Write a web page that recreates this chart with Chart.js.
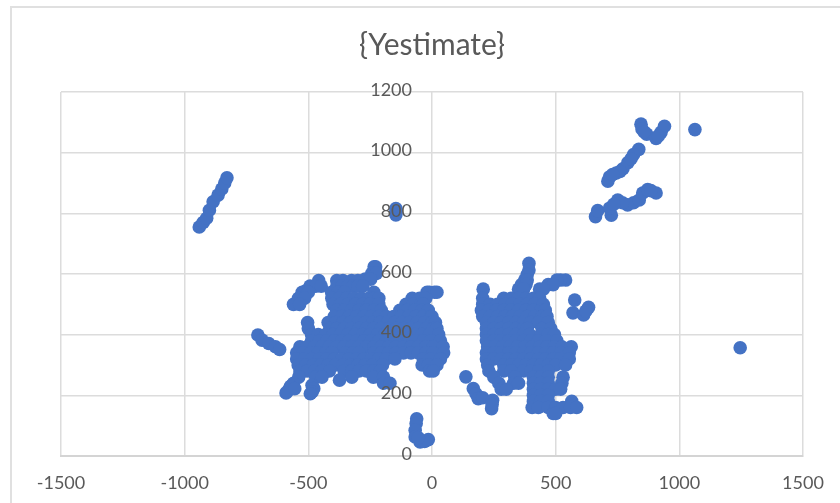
<!DOCTYPE html>
<html lang="en">

<head>
    <meta charset="UTF-8">
    <style>
        html, body { margin: 0; padding: 0; background: #fff; overflow: hidden; }
        .frame { position: absolute; left: 10px; top: 6px; width: 840px; height: 510px; border: 2px solid #e0e0e0; box-sizing: border-box; }
        .chart-container { position: absolute; left: 0; top: 0; width: 840px; height: 503px; filter: blur(0.4px); }
    </style>
</head>

<body>
    <div class="frame"></div>
    <div class="chart-container">
        <canvas id="myChart" width="840" height="503"></canvas>
    </div>

    <script src="https://cdn.jsdelivr.net/npm/chart.js"></script>

    <script>
        const chartTitle = '{Yestimate}';
        const xTicks = [-1500, -1000, -500, 0, 500, 1000, 1500];
        const yTicks = [0, 200, 400, 600, 800, 1000, 1200];

        // each row: [y, [x, x, ...]]
        const leftMassRows = [
            [624, [-234, -228]], [602, [-243, -225]], [583, [-270, -248]], [578, [-458, -385, -360, -325, -300]],
            [560, [-493, -470, -448, -385, -365, -340, -320, -300, -280]],
            [545, [-510]],
            [540, [-525, -500, -406, -380, -355, -235, -10, 10, -20, 20]],
            [520, [-540, -515, -405, -375, -345, -315, -285, -255, -235, -215, -80, -50, -25]],
            [500, [-560, -535, -400, -370, -340, -310, -280, -250, -215, -105, -75, -45, -35]],
            [480, [-385, -355, -325, -295, -265, -235, -205, -130, -100, -70, -40, -15]],
            [460, [-395, -365, -335, -305, -275, -245, -215, -185, -155, -125, -95, -65, -35, -5, 0]],
            [440, [-503, -420, -390, -360, -330, -300, -270, -240, -210, -180, -150, -120, -90, -60, -30, 0, 14]],
            [420, [-500, -413, -385, -355, -325, -295, -265, -235, -205, -175, -145, -115, -85, -55, -25, 5, 20]],
            [400, [-487, -460, -430, -400, -370, -340, -310, -280, -250, -220, -190, -160, -130, -100, -70, -40, -10, 27]],
            [380, [-487, -455, -425, -395, -365, -335, -305, -275, -245, -215, -185, -155, -125, -95, -65, -35, -5, 34]],
            [360, [-534, -505, -475, -445, -415, -385, -355, -325, -295, -265, -235, -205, -175, -145, -115, -85, -55, -25, 5, 45]],
            [340, [-547, -520, -490, -460, -430, -405, -350, -320, -295, -235, -205, -175, -145, -115, -85, -55, -25, 5, 47]],
            [320, [-547, -515, -485, -455, -425, -395, -365, -335, -305, -275, -245, -215, -185, -150, -35, -5, 34]],
            [300, [-541, -510, -480, -450, -420, -390, -360, -330, -300, -270, -240, -200, -40, -15, 20]],
            [280, [-534, -505, -475, -445, -415, -355, -325, -295, -265, -235, -210, -10, 5]],
            [260, [-539, -470, -445, -324, -237, -196]],
            [240, [-560, -196, -170]]
        ];
        const leftBottomBlobs = [[-580, 217], [-572, 230], [-590, 208], [-555, 222], [-485, 233], [-478, 222], [-485, 211], [-492, 205], [-374, 250]];
        const leftTail = [[-704, 399], [-687, 382], [-660, 371], [-633, 360], [-616, 351]];
        const lowCluster = [[-62, 123], [-64, 107], [-68, 85], [-68, 63], [-48, 46], [-15, 54], [-30, 48], [-55, 60]];
        const upperLeftLine = [[-941, 755], [-925, 770], [-911, 784], [-900, 810], [-885, 838], [-865, 860], [-850, 880], [-838, 900], [-829, 917]];
        const midBlob = [[-146, 816], [-146, 805], [-146, 795]];

        const rightMassRows = [
            [635, [392]], [613, [392]], [598, [385]], [580, [375, 385, 540, 520, 505]],
            [565, [362, 380, 470, 490]], [550, [207, 350, 370, 435, 450]],
            [520, [205, 290, 320, 350, 380, 410, 435]],
            [500, [205, 235, 265, 295, 325, 355, 385, 415, 450]],
            [480, [200, 230, 260, 290, 320, 350, 380, 410, 440, 458]],
            [460, [205, 235, 265, 295, 325, 355, 385, 415, 445, 465]],
            [440, [220, 250, 280, 310, 340, 370, 400, 430, 470]],
            [420, [220, 250, 280, 310, 340, 370, 385, 445, 480]],
            [400, [220, 250, 280, 310, 340, 370, 395, 440, 470, 495]],
            [380, [220, 250, 280, 310, 340, 370, 400, 430, 460, 505]],
            [360, [225, 255, 285, 315, 345, 375, 405, 435, 465, 495, 525, 563]],
            [340, [220, 250, 280, 310, 340, 370, 400, 430, 460, 490, 520, 555]],
            [320, [220, 250, 280, 310, 340, 370, 400, 430, 460, 490, 520, 555]],
            [300, [225, 290, 320, 350, 380, 410, 440, 470, 500, 540]],
            [280, [230, 290, 320, 370, 400, 430, 470]],
            [260, [250, 335, 410, 440, 470, 530]],
            [240, [270, 330, 350, 410, 440, 470, 525]],
            [220, [280, 300, 410, 440, 470, 500, 520]],
            [200, [410, 440, 470]],
            [180, [410, 440, 470, 565]],
            [160, [405, 430, 470, 500, 530, 560, 585]],
            [140, [490, 500]]
        ];
        const rightBottomBlobs = [[137, 261], [167, 222], [178, 205], [187, 189], [205, 192], [241, 156], [245, 184], [243, 170]];
        const rightSatellites = [[577, 514], [570, 472], [613, 465], [633, 490], [622, 478]];
        const farPoint = [[1246, 357]];
        const topRightCap = [[845, 1094], [849, 1078], [868, 1061], [906, 1047], [926, 1067], [940, 1087], [858, 1068], [915, 1055]];
        const topRightLine = [[836, 1011], [815, 994], [792, 967], [772, 947], [745, 933], [718, 920], [711, 906], [805, 980], [760, 938], [730, 928]];
        const midRightLine = [[661, 789], [670, 809], [725, 794], [718, 817], [751, 844], [791, 828], [815, 835], [838, 844], [852, 867], [872, 878], [906, 867], [885, 875], [770, 835], [735, 830]];
        const singlePoint = [[1063, 1076]];

        const rowsToPoints = rows => rows.flatMap(([y, xs]) => xs.map(x => ({ x, y })));
        const pairsToPoints = pairs => pairs.map(([x, y]) => ({ x, y }));

        const points = [
            ...rowsToPoints(leftMassRows),
            ...rowsToPoints(rightMassRows),
            ...pairsToPoints(leftBottomBlobs),
            ...pairsToPoints(leftTail),
            ...pairsToPoints(lowCluster),
            ...pairsToPoints(upperLeftLine),
            ...pairsToPoints(midBlob),
            ...pairsToPoints(rightBottomBlobs),
            ...pairsToPoints(rightSatellites),
            ...pairsToPoints(farPoint),
            ...pairsToPoints(topRightCap),
            ...pairsToPoints(topRightLine),
            ...pairsToPoints(midRightLine),
            ...pairsToPoints(singlePoint)
        ];

        const ctx = document.getElementById('myChart');

        new Chart(ctx, {
            type: 'scatter',
            data: {
                datasets: [{
                    label: chartTitle,
                    data: points,
                    backgroundColor: '#4472c4',
                    borderColor: '#4472c4',
                    pointRadius: 6.8,
                    pointBorderWidth: 0
                }]
            },
            options: {
                responsive: false,
                animation: false,
                layout: { padding: { left: 61, right: 37, top: 0, bottom: 0 } },
                plugins: {
                    legend: { display: false },
                    tooltip: { enabled: false },
                    title: {
                        display: true,
                        text: chartTitle,
                        color: '#595959',
                        font: { family: 'Lato', size: 30, weight: 'normal' },
                        padding: { top: 27, bottom: 29 }
                    }
                },
                scales: {
                    x: {
                        type: 'linear',
                        min: -1500,
                        max: 1500,
                        afterBuildTicks: axis => { axis.ticks = xTicks.map(value => ({ value })); },
                        afterFit: axis => { axis.height = 47; },
                        grid: { color: '#dcdcdc', lineWidth: 1.5, drawTicks: false },
                        border: { color: '#d4d4d4', width: 2 },
                        ticks: { color: '#595959', font: { family: 'Lato', size: 18 }, padding: 16, maxRotation: 0, callback: value => String(value) }
                    },
                    y: {
                        type: 'linear',
                        min: 0,
                        max: 1200,
                        // labels sit 20px left of the zero line, the vertical there is the x grid line
                        position: { x: -81 },
                        afterBuildTicks: axis => { axis.ticks = yTicks.map(value => ({ value })); },
                        grid: { color: '#dcdcdc', lineWidth: 1.5, drawTicks: false },
                        border: { display: false },
                        ticks: { color: '#595959', font: { family: 'Lato', size: 18 }, labelOffset: -2, z: 1, callback: value => String(value) }
                    }
                }
            }
        });
    </script>
</body>

</html>
